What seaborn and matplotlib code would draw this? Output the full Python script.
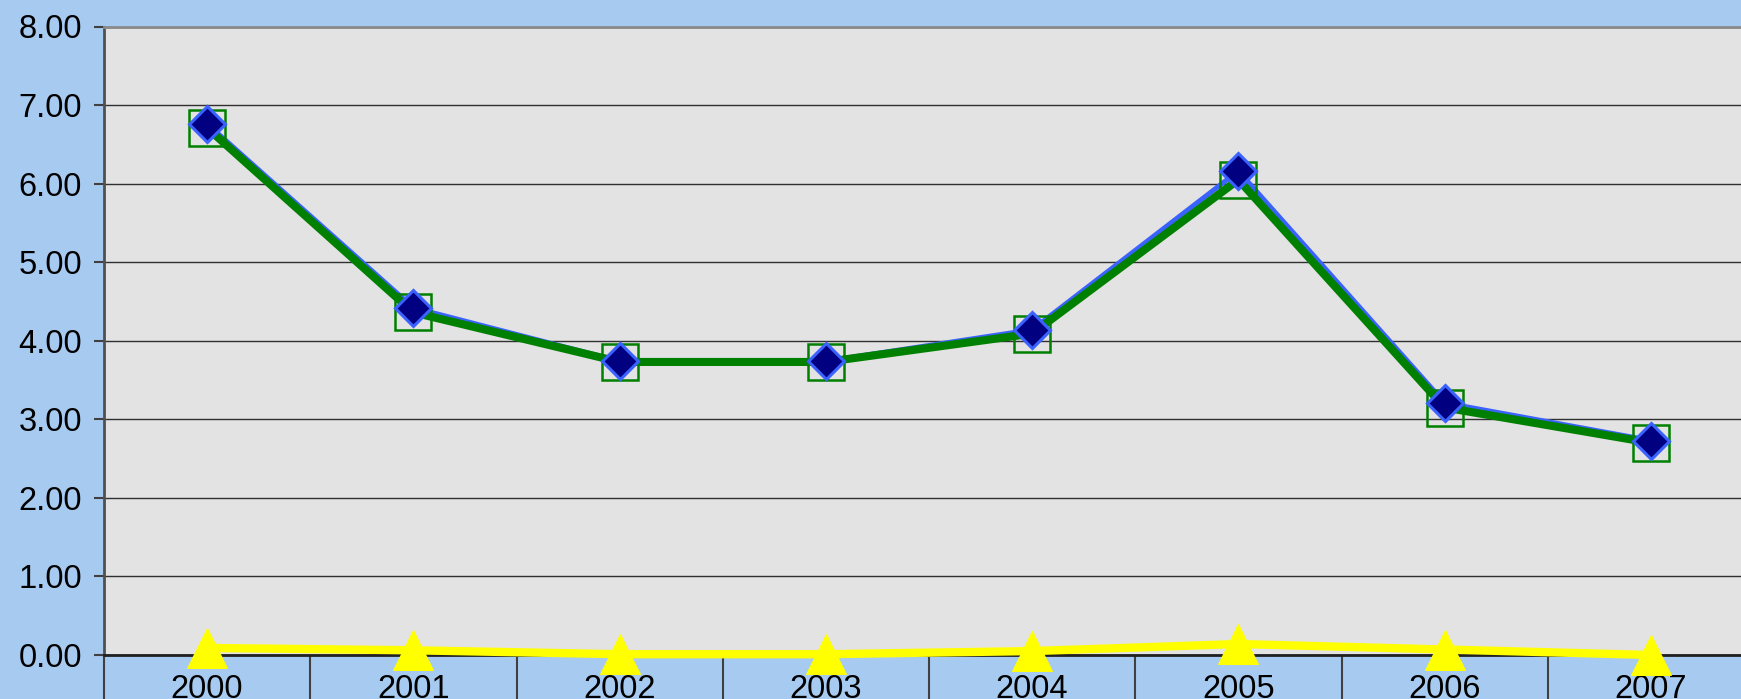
import numpy as np
import pandas as pd
import matplotlib
matplotlib.use("Agg")
import matplotlib.pyplot as plt
import seaborn as sns

# data
years = ["2000", "2001", "2002", "2003", "2004", "2005", "2006", "2007"]
series_blue = [6.76, 4.42, 3.74, 3.74, 4.14, 6.16, 3.21, 2.73]
series_green = [6.71, 4.36, 3.73, 3.73, 4.09, 6.05, 3.15, 2.70]
series_yellow = [0.09, 0.06, 0.01, 0.01, 0.05, 0.14, 0.07, 0.00]
y_ticks = [0, 1, 2, 3, 4, 5, 6, 7, 8]

sns.set_style("white")
plt.rcParams["font.family"] = ["Liberation Sans", "DejaVu Sans"]

bg = "#A7CAF0"
plot_bg = "#E3E3E3"

fig = plt.figure(figsize=(17.41, 6.99), dpi=100, facecolor=bg)
ax = fig.add_axes([104 / 1741, 44 / 699, 1650 / 1741, 628.5 / 699])
ax.set_facecolor(plot_bg)

x = np.arange(len(years))
df = pd.DataFrame({"x": x, "blue": series_blue, "green": series_green,
                   "yellow": series_yellow})

# blue line behind, thick green on top, then markers
sns.lineplot(data=df, x="x", y="blue", ax=ax, color="#3A62FF", lw=3.6,
             zorder=3, clip_on=False)
sns.lineplot(data=df, x="x", y="green", ax=ax, color="#008000", lw=5.8,
             marker="s", markersize=26, markerfacecolor="none",
             markeredgecolor="#008000", markeredgewidth=1.8,
             zorder=4, clip_on=False)
sns.lineplot(data=df, x="x", y="blue", ax=ax, color="#3A62FF", lw=0,
             marker="D", markersize=18.5, markerfacecolor="#000080",
             markeredgecolor="#3A62FF", markeredgewidth=2.2,
             zorder=5, clip_on=False)
sns.lineplot(data=df, x="x", y="yellow", ax=ax, color="#FFFF00", lw=6,
             marker="^", markersize=29, markerfacecolor="#FFFF00",
             markeredgecolor="#FFFF00", zorder=6, clip_on=False)

ax.set_xlim(-0.5, len(years) - 0.5)
ax.set_ylim(0, 8)
ax.set_yticks(y_ticks)
ax.set_yticklabels([f"{v:.2f}" for v in y_ticks], fontsize=23.5, color="black")
ax.set_xticks(x)
ax.set_xticklabels(years, fontsize=23.5, color="black")
ax.set_xticks(np.arange(-0.5, len(years), 1), minor=True)
ax.tick_params(axis="x", which="major", bottom=True, length=0, pad=14)
ax.tick_params(axis="x", which="minor", bottom=True, length=40, width=1.5,
               color="#404040", direction="out")
ax.tick_params(axis="y", length=7, width=1.5, color="#404040", pad=9,
               direction="out", left=True)
ax.set_xlabel("")
ax.set_ylabel("")

ax.grid(axis="y", color="#303030", lw=1)
ax.grid(axis="x", visible=False)
ax.set_axisbelow(True)

ax.spines["top"].set_color("#8A8A8A")
ax.spines["top"].set_linewidth(2)
ax.spines["left"].set_color("#505050")
ax.spines["left"].set_linewidth(2)
ax.spines["bottom"].set_color("#202020")
ax.spines["bottom"].set_linewidth(2)
ax.spines["right"].set_visible(False)

fig.savefig("out.png", dpi=100, facecolor=bg)
